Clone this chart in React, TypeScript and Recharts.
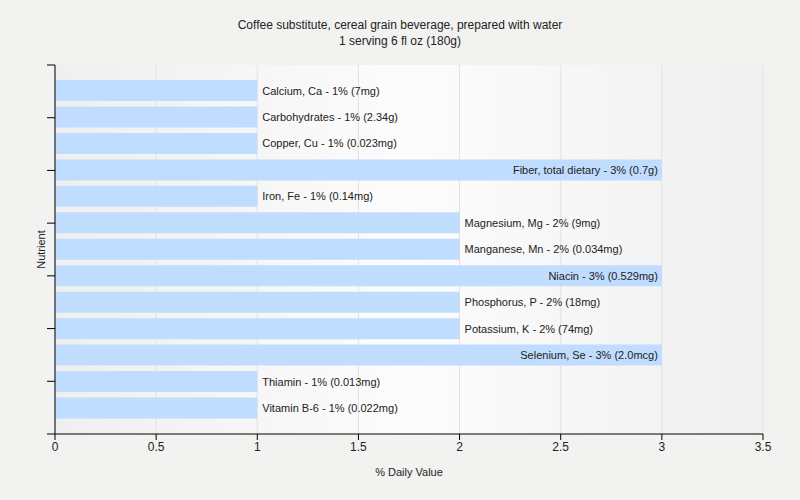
import * as Recharts from "recharts";
import { Bar, BarChart, CartesianGrid, LabelList, XAxis, YAxis } from "recharts";

const nutrients = [
  "Calcium, Ca",
  "Carbohydrates",
  "Copper, Cu",
  "Fiber, total dietary",
  "Iron, Fe",
  "Magnesium, Mg",
  "Manganese, Mn",
  "Niacin",
  "Phosphorus, P",
  "Potassium, K",
  "Selenium, Se",
  "Thiamin",
  "Vitamin B-6",
];
const dailyValues = [1, 1, 1, 3, 1, 2, 2, 3, 2, 2, 3, 1, 1];
const amounts = [
  "7mg",
  "2.34g",
  "0.023mg",
  "0.7g",
  "0.14mg",
  "9mg",
  "0.034mg",
  "0.529mg",
  "18mg",
  "74mg",
  "2.0mcg",
  "0.013mg",
  "0.022mg",
];
const xTicks = [0, 0.5, 1, 1.5, 2, 2.5, 3, 3.5];
// y axis has 7 evenly spaced tick intervals, unlabeled
const yTickCount = 8;

const data = nutrients.map((name, i) => ({
  name,
  value: dailyValues[i],
  label: `${name} - ${dailyValues[i]}% (${amounts[i]})`,
}));

const font = "'Liberation Sans', Arial, sans-serif";

const BarLabel = (props: any) => {
  const { x, y, width, height, value } = props;
  const inside = data.find((d) => d.label === value)!.value >= 3;
  return (
    <text
      x={inside ? x + width - 4 : x + width + 5}
      y={y + height / 2}
      dy={4}
      textAnchor={inside ? "end" : "start"}
      fontSize={11}
      fontFamily={font}
      fill="#222"
    >
      {value}
    </text>
  );
};

// tick marks along the left axis, spaced over the plot area
const YTickMarks = () => {
  const R: any = Recharts;
  const area = R.usePlotArea ? R.usePlotArea() : null;
  if (!area) return null;
  const marks = [];
  for (let i = 0; i < yTickCount; i++) {
    const y = area.y + (i * area.height) / (yTickCount - 1);
    marks.push(<line key={i} x1={area.x - 8} x2={area.x} y1={y} y2={y} stroke="#000" />);
  }
  return <g>{marks}</g>;
};

const App = () => {
  return (
    <div style={{ position: "absolute", left: 0, top: 0, width: 800, height: 500, background: "#f2f2f1" }}>
      <div
        style={{
          position: "absolute",
          top: 17,
          width: 800,
          textAlign: "center",
          fontFamily: font,
          fontSize: 12,
          lineHeight: "16px",
          color: "#222",
        }}
      >
        Coffee substitute, cereal grain beverage, prepared with water
        <br />1 serving 6 fl oz (180g)
      </div>
      <BarChart
        width={800}
        height={500}
        data={data}
        layout="vertical"
        margin={{ top: 65, right: 37, bottom: 16, left: 0 }}
        style={{ position: "absolute", left: 0, top: 0 }}
      >
        <defs>
          <linearGradient id="plotBg" x1="0" y1="0" x2="1" y2="0">
            <stop offset="0%" stopColor="#efefef" />
            <stop offset="50%" stopColor="#fcfcfc" />
            <stop offset="100%" stopColor="#f0f0f0" />
          </linearGradient>
        </defs>
        <CartesianGrid horizontal={false} stroke="#e2e2e2" fill="url(#plotBg)" />
        <XAxis
          type="number"
          domain={[0, 3.5]}
          ticks={xTicks}
          interval={0}
          height={50}
          stroke="#000"
          tickSize={6}
          tick={{ fontSize: 12, fontFamily: font, fill: "#222" }}
          label={{
            value: "% Daily Value",
            position: "insideBottom",
            offset: 8,
            fontSize: 11,
            fontFamily: font,
            fill: "#222",
          }}
        />
        <YAxis
          type="category"
          dataKey="name"
          width={55}
          padding={{ top: 12, bottom: 13 }}
          stroke="#000"
          tick={false}
          tickLine={false}
          label={{
            value: "Nutrient",
            angle: -90,
            position: "center",
            dx: 14,
            fontSize: 11,
            fontFamily: font,
            fill: "#222",
          }}
        />
        <Bar dataKey="value" fill="#c0dcff" barSize={21} isAnimationActive={false}>
          <LabelList dataKey="label" content={BarLabel} />
        </Bar>
        <YTickMarks />
      </BarChart>
    </div>
  );
};

export default App;
